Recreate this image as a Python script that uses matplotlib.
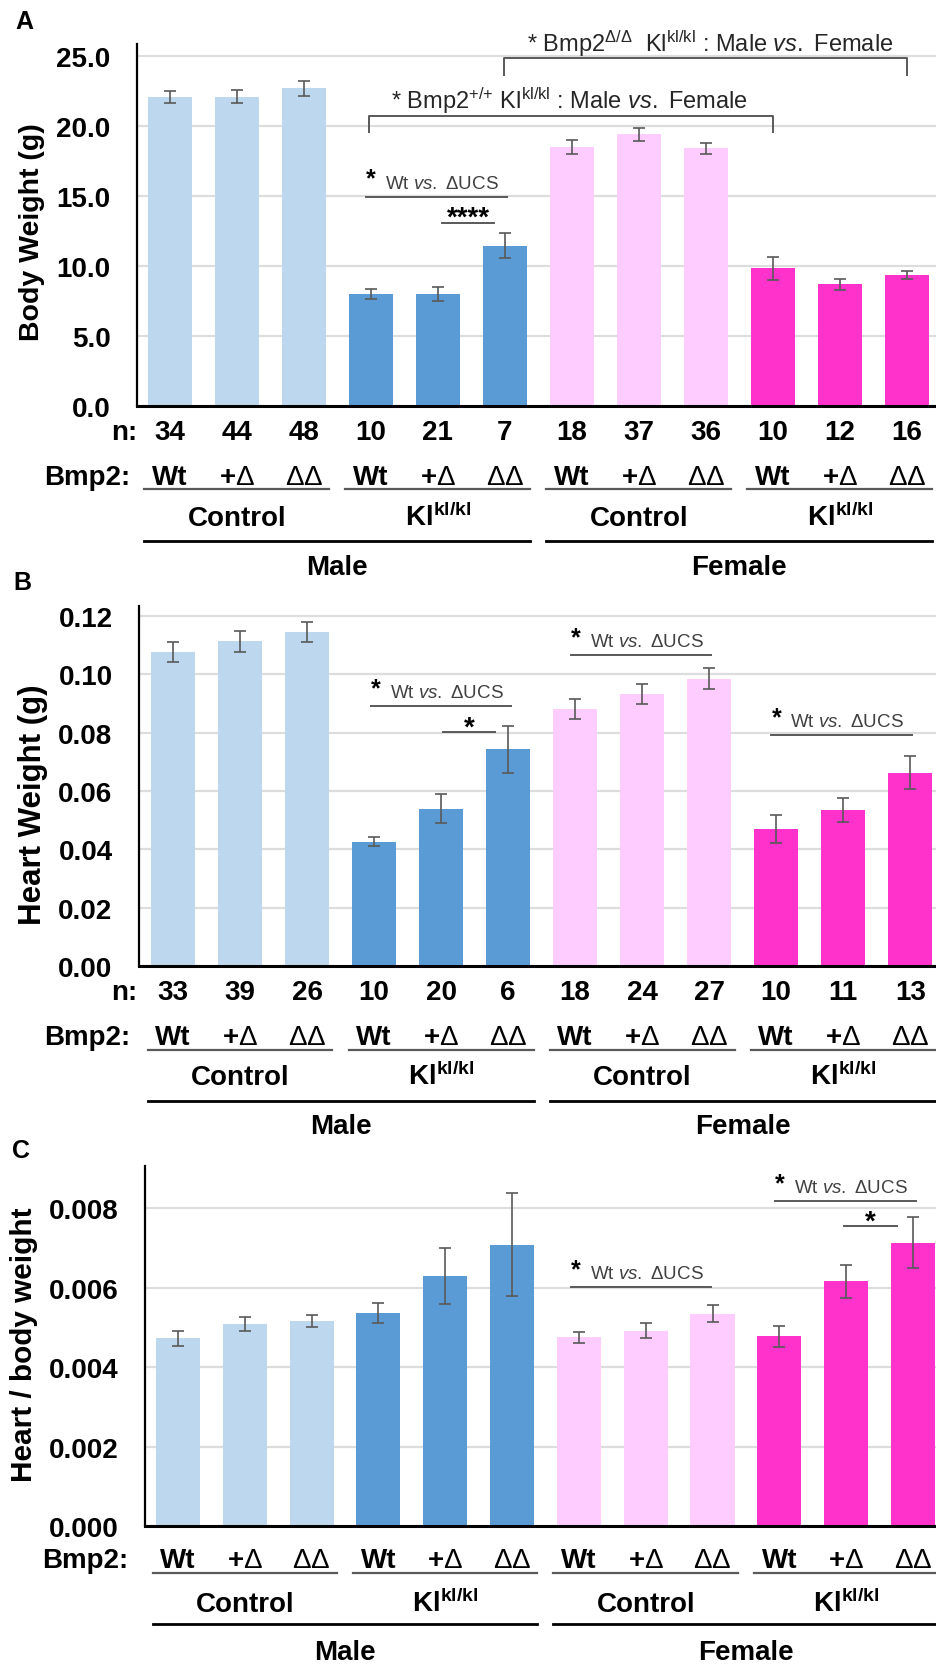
import numpy as np
import matplotlib
matplotlib.use('Agg')
import matplotlib.pyplot as plt
from matplotlib import transforms as mtrans
from matplotlib.lines import Line2D

plt.rcParams['font.family'] = ['Liberation Sans', 'DejaVu Sans']
plt.rcParams['mathtext.fontset'] = 'custom'
plt.rcParams['mathtext.rm'] = 'Liberation Sans'
plt.rcParams['mathtext.it'] = 'Liberation Sans:italic'
plt.rcParams['mathtext.bf'] = 'Liberation Sans:bold'

# ---------------- data ----------------
genotypes = ['Wt', '+Δ', 'ΔΔ'] * 4
groups = ['Control', 'Kl', 'Control', 'Kl']
sexes = ['Male', 'Female']

body_weight = [22.1, 22.1, 22.7, 8.0, 8.0, 11.45, 18.5, 19.4, 18.4, 9.85, 8.7, 9.35]
body_err = [0.42, 0.48, 0.55, 0.35, 0.5, 0.9, 0.5, 0.45, 0.37, 0.82, 0.38, 0.3]
n_body = [34, 44, 48, 10, 21, 7, 18, 37, 36, 10, 12, 16]

heart_weight = [0.1076, 0.1113, 0.1145, 0.0426, 0.0539, 0.0743,
                0.0881, 0.0932, 0.0985, 0.0471, 0.0535, 0.0663]
heart_err = [0.0033, 0.0035, 0.0034, 0.0015, 0.0049, 0.0081,
             0.0034, 0.0033, 0.0037, 0.0048, 0.0040, 0.0056]
n_heart = [33, 39, 26, 10, 20, 6, 18, 24, 27, 10, 11, 13]

ratio = [0.00472, 0.00508, 0.00516, 0.00537, 0.00629, 0.00708,
         0.00475, 0.00492, 0.00534, 0.00477, 0.00616, 0.00713]
ratio_err = [0.00020, 0.00018, 0.00015, 0.00025, 0.00070, 0.00129,
             0.00014, 0.00020, 0.00021, 0.00026, 0.00042, 0.00064]

bar_colors = ['#BDD7EE'] * 3 + ['#5B9BD5'] * 3 + ['#FFCCFF'] * 3 + ['#FF33CC'] * 3

# ---------------- figure ----------------
W, H = 937, 1665
fig = plt.figure(figsize=(W / 100, H / 100), dpi=100)
GRAY = '#595959'
TXT = '#262626'


def px_axes(left, right, top, bottom):
    return fig.add_axes([left / W, 1 - bottom / H, (right - left) / W, (bottom - top) / H])


def draw_panel(ax, vals, errs, xlim, ylim_top, ticks, fmt):
    x = np.arange(len(vals))
    ax.bar(x, vals, width=0.66, color=bar_colors, zorder=2, linewidth=0)
    ax.errorbar(x, vals, yerr=errs, fmt='none', ecolor=GRAY, elinewidth=1.2,
                capsize=4.3, capthick=1.2, zorder=3)
    ax.set_xlim(*xlim)
    ax.set_ylim(0, ylim_top)
    ax.set_yticks(ticks)
    ax.set_yticklabels([fmt.format(t) for t in ticks], fontsize=20, fontweight='bold')
    ax.tick_params(axis='y', length=0, pad=19)
    ax.tick_params(axis='x', length=0, labelbottom=False)
    ax.set_xticks([])
    ax.yaxis.grid(True, color='#DDDDDD', lw=1.6, zorder=0)
    ax.set_axisbelow(True)
    for s in ['top', 'right']:
        ax.spines[s].set_visible(False)
    ax.spines['left'].set_linewidth(1.6)
    ax.spines['bottom'].set_linewidth(2.2)
    ax.spines['left'].set_zorder(4)
    ax.spines['bottom'].set_zorder(4)


def bottom_labels(ax, y_n, ys, nvals=None, bmp_x=130, n_x=137):
    tr = mtrans.blended_transform_factory(ax.transData, fig.transFigure)

    def fy(ypx):
        return 1 - ypx / H
    y_bmp, y_ul, y_grp, y_long, y_sex = ys
    base = 10  # baseline offset from visual centre for 20pt text
    if nvals is not None:
        fig.text(n_x / W, fy(y_n + base), 'n:', ha='right', va='baseline',
                 fontsize=20, fontweight='bold')
        for i, n in enumerate(nvals):
            fig.text(i, fy(y_n + base), str(n), transform=tr, ha='center', va='baseline',
                     fontsize=20, fontweight='bold')
    fig.text(bmp_x / W, fy(y_bmp + base), 'Bmp2:', ha='right', va='baseline',
             fontsize=20, fontweight='bold')
    for i, g in enumerate(genotypes):
        if g == 'Wt':
            s = 'Wt'
        elif g == '+Δ':
            s = r'$\mathbf{+}\mathrm{\Delta}$'
        else:
            s = r'$\mathrm{\Delta\Delta}$'
        fig.text(i, fy(y_bmp + base), s, transform=tr, ha='center', va='baseline',
                 fontsize=20, fontweight='bold')
    for gi, g in enumerate(groups):
        c = 3 * gi + 1
        fig.add_artist(Line2D([c - 1.38, c + 1.38], [fy(y_ul), fy(y_ul)], transform=tr,
                              color=GRAY, lw=1.6))
        s = 'Control' if g == 'Control' else r'$\mathbf{Kl}^{\mathbf{kl/kl}}$'
        fig.text(c, fy(y_grp + base), s, transform=tr, ha='center', va='baseline',
                 fontsize=20, fontweight='bold')
    for si, s in enumerate(sexes):
        c = 6 * si + 2.5
        fig.add_artist(Line2D([c - 2.88, c + 2.88], [fy(y_long), fy(y_long)], transform=tr,
                              color='black', lw=2.0))
        fig.text(c, fy(y_sex + base), s, transform=tr, ha='center', va='baseline',
                 fontsize=20, fontweight='bold')


def sig_wt(ax, x0, x1, y):
    ax.plot([x0, x1], [y, y], color=GRAY, lw=1.4, clip_on=False, zorder=5)
    t_star = mtrans.offset_copy(ax.transData, fig=fig, x=0, y=11, units='dots')
    ax.text(x0, y, '*', transform=t_star, ha='left', va='baseline', fontsize=18,
            fontweight='bold', color='black')
    t_txt = mtrans.offset_copy(ax.transData, fig=fig, x=19, y=9, units='dots')
    ax.text(x0, y, r'Wt $\mathit{vs.}$ ΔUCS', transform=t_txt, ha='left', va='baseline',
            fontsize=13.5, color='#404040')


def sig_short(ax, x0, x1, y, stars, dy=0, size=16):
    ax.plot([x0, x1], [y, y], color=GRAY, lw=1.4, clip_on=False, zorder=5)
    t = mtrans.offset_copy(ax.transData, fig=fig, x=0, y=dy, units='dots')
    ax.text((x0 + x1) / 2, y, stars, transform=t, ha='center', va='baseline',
            fontsize=size, fontweight='bold', color='black')


def bracket(ax, x0, x1, ytop, ybot, text, ytext, xtext):
    ax.plot([x0, x0, x1, x1], [ybot, ytop, ytop, ybot], color=GRAY, lw=1.4,
            clip_on=False, zorder=5)
    ax.text(xtext, ytext, text, ha='center', va='baseline', fontsize=17, color=TXT,
            clip_on=False)


# ---------------- Panel A ----------------
axA = px_axes(137, 937, 45, 407)
draw_panel(axA, body_weight, body_err, (-0.49, 11.45), 25.86,
           [0, 5, 10, 15, 20, 25], '{:.1f}')
sig_wt(axA, 2.93, 5.03, 14.95)
sig_short(axA, 4.06, 4.84, 13.07, '****', dy=-2, size=20)
bracket(axA, 4.99, 11.0, 24.86, 23.64,
        r'* Bmp2$^{\mathrm{\Delta/\Delta}}$  Kl$^{\mathrm{kl/kl}}$ : Male $\mathit{vs.}$ Female',
        25.4, 8.07)
bracket(axA, 2.97, 9.0, 20.71, 19.57,
        r'* Bmp2$^{{+}/{+}}$ Kl$^{\mathrm{kl/kl}}$ : Male $\mathit{vs.}$ Female',
        21.3, 5.96)
bottom_labels(axA, 430, (475, 490, 516, 542, 565), n_body)

# ---------------- Panel B ----------------
axB = px_axes(139, 937, 607, 967)
draw_panel(axB, heart_weight, heart_err, (-0.507, 11.40), 0.1234,
           [0, 0.02, 0.04, 0.06, 0.08, 0.10, 0.12], '{:.2f}')
sig_wt(axB, 2.96, 5.04, 0.0891)
sig_short(axB, 4.03, 4.81, 0.0802, '*', dy=-3, size=20)
sig_wt(axB, 5.94, 8.03, 0.1066)
sig_wt(axB, 8.93, 11.03, 0.0792)
bottom_labels(axB, 990, (1035, 1051, 1075, 1102, 1124), n_heart)

# ---------------- Panel C ----------------
axC = px_axes(145, 937, 1167, 1527)
draw_panel(axC, ratio, ratio_err, (-0.494, 11.36), 0.00906,
           [0, 0.002, 0.004, 0.006, 0.008], '{:.3f}')
sig_wt(axC, 5.88, 7.98, 0.00601)
sig_wt(axC, 8.94, 11.05, 0.00818)
sig_short(axC, 9.97, 10.76, 0.00755, '*', dy=-3, size=20)
bottom_labels(axC, None, (1558, 1574, 1602, 1625, 1650), None, bmp_x=128)

# ---------------- axis titles and panel letters ----------------
fig.text(32 / W, 1 - 232 / H, 'Body Weight (g)', rotation=90, ha='center', va='center',
         fontsize=20.5, fontweight='bold')
fig.text(33 / W, 1 - 805 / H, 'Heart Weight (g)', rotation=90, ha='center', va='center',
         fontsize=22.5, fontweight='bold')
fig.text(24 / W, 1 - 1345 / H, 'Heart / body weight', rotation=90, ha='center', va='center',
         fontsize=21.4, fontweight='bold')
for letter, (lx, ly) in {'A': (15, 22), 'B': (13, 583), 'C': (12, 1151)}.items():
    fig.text(lx / W, 1 - ly / H, letter, ha='left', va='center', fontsize=18,
             fontweight='bold')

fig.savefig('out.png', dpi=100)
